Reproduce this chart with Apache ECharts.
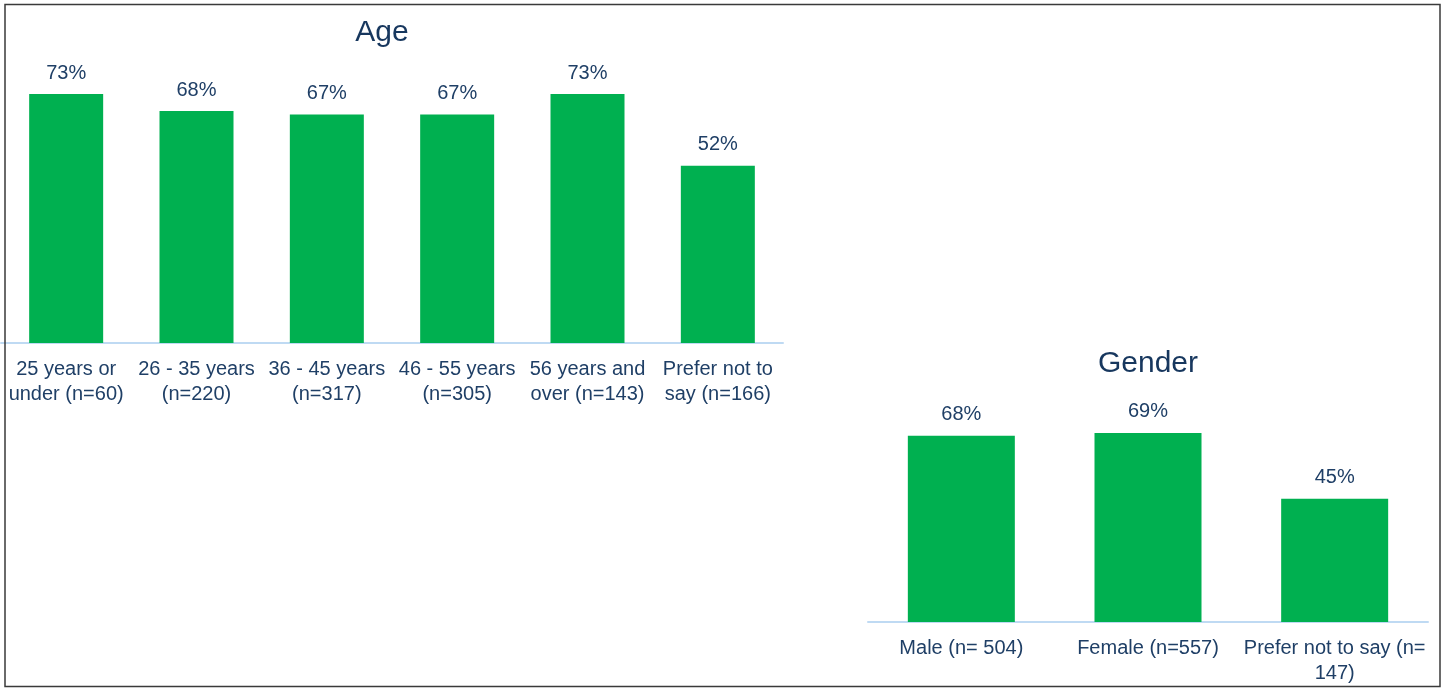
<!DOCTYPE html>
<html>
<head>
<meta charset="utf-8">
<script src="https://cdn.jsdelivr.net/npm/echarts@6/dist/echarts.min.js"></script>
<style>
  html, body { margin: 0; padding: 0; background: #ffffff; }
  #chart { width: 1447px; height: 690px; }
</style>
</head>
<body>
<div id="chart"></div>
<script>
// Age breakdown
const ageCategories = [
  '25 years or\nunder (n=60)',
  '26 - 35 years\n(n=220)',
  '36 - 45 years\n(n=317)',
  '46 - 55 years\n(n=305)',
  '56 years and\nover (n=143)',
  'Prefer not to\nsay (n=166)'
];
const ageValues = [73, 68, 67, 67, 73, 52];

// Gender breakdown
const genderCategories = [
  'Male (n= 504)',
  'Female (n=557)',
  'Prefer not to say (n=\n147)'
];
const genderValues = [68, 69, 45];

const FONT = '"Liberation Sans", Arial, sans-serif';
const BAR_GREEN = '#00B050';
const TEXT_DARK = '#1F3F66';
const TITLE_DARK = '#17375E';
const AXIS_BLUE = '#BFDAF3';

const chart = echarts.init(document.getElementById('chart'), null, { renderer: 'canvas' });

function catAxis(gridIndex, data) {
  return {
    type: 'category',
    gridIndex: gridIndex,
    data: data,
    axisTick: { show: false },
    axisLine: { show: true, lineStyle: { color: AXIS_BLUE, width: 2 } },
    axisLabel: {
      interval: 0,
      margin: 14,
      fontFamily: FONT,
      fontSize: 20,
      lineHeight: 25,
      color: TEXT_DARK,
      align: 'center'
    }
  };
}

function valAxis(gridIndex) {
  return {
    type: 'value',
    gridIndex: gridIndex,
    min: 0,
    max: 100,
    show: false,
    splitLine: { show: false }
  };
}

function barSeries(index, values, width) {
  return {
    type: 'bar',
    xAxisIndex: index,
    yAxisIndex: index,
    data: values,
    barWidth: width,
    itemStyle: { color: BAR_GREEN },
    label: {
      show: true,
      position: 'top',
      distance: 11,
      formatter: '{c}%',
      fontFamily: FONT,
      fontSize: 20,
      color: TEXT_DARK
    },
    silent: true,
    animation: false
  };
}

chart.setOption({
  backgroundColor: '#ffffff',
  animation: false,
  title: [
    {
      text: 'Age',
      left: 382,
      top: 18,
      padding: 0,
      textAlign: 'center',
      textStyle: { fontFamily: FONT, fontSize: 30, fontWeight: 'normal', color: TITLE_DARK }
    },
    {
      text: 'Gender',
      left: 1148,
      top: 349,
      padding: 0,
      textAlign: 'center',
      textStyle: { fontFamily: FONT, fontSize: 30, fontWeight: 'normal', color: TITLE_DARK }
    }
  ],
  grid: [
    { left: 1, width: 782, top: 2, bottom: 347, containLabel: false },
    { left: 868, width: 560, top: 348, bottom: 68, containLabel: false }
  ],
  xAxis: [catAxis(0, ageCategories), catAxis(1, genderCategories)],
  yAxis: [valAxis(0), valAxis(1)],
  series: [barSeries(0, ageValues, 74), barSeries(1, genderValues, 107)],
  graphic: [
    {
      type: 'rect',
      silent: true,
      z: 100,
      shape: { x: 5, y: 4.5, width: 1435, height: 682 },
      style: { fill: null, stroke: '#3A3A3A', lineWidth: 1.5 }
    }
  ]
});
</script>
</body>
</html>
